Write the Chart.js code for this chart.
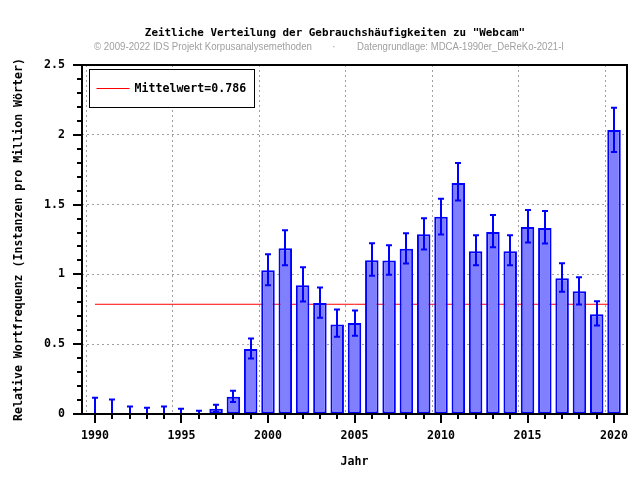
<!DOCTYPE html>
<html>
<head>
<meta charset="utf-8">
<script src="https://cdn.jsdelivr.net/npm/chart.js@4.4.1/dist/chart.umd.min.js"></script>
<style>
  html, body { margin: 0; padding: 0; background: #fff; }
</style>
</head>
<body>
<canvas id="chart" width="640" height="480"></canvas>
<script>
const chartTitle = 'Zeitliche Verteilung der Gebrauchshäufigkeiten zu "Webcam"';
const copyrightText = "© 2009-2022 IDS Projekt Korpusanalysemethoden";
const sourceText = "Datengrundlage: MDCA-1990er_DeReKo-2021-I";
const xAxisLabel = "Jahr";
const yAxisLabel = "Relative Wortfrequenz (Instanzen pro Million Wörter)";

const years = [1990, 1991, 1992, 1993, 1994, 1995, 1996, 1997, 1998, 1999,
  2000, 2001, 2002, 2003, 2004, 2005, 2006, 2007, 2008, 2009,
  2010, 2011, 2012, 2013, 2014, 2015, 2016, 2017, 2018, 2019, 2020];
const frequencies = [0, 0, 0, 0, 0, 0, 0, 0.038, 0.124, 0.465,
  1.03, 1.188, 0.922, 0.795, 0.642, 0.651, 1.101, 1.10, 1.183, 1.288,
  1.413, 1.654, 1.166, 1.303, 1.166, 1.339, 1.332, 0.972, 0.879, 0.714, 2.035];
const errorLow = [0, 0, 0, 0, 0, 0, 0, 0.017, 0.086, 0.397,
  0.922, 1.065, 0.805, 0.69, 0.553, 0.56, 0.991, 0.998, 1.078, 1.178,
  1.286, 1.53, 1.065, 1.195, 1.065, 1.228, 1.221, 0.876, 0.785, 0.634, 1.877];
const errorHigh = [0.117, 0.103, 0.053, 0.045, 0.053, 0.038, 0.024, 0.067, 0.167, 0.541,
  1.144, 1.317, 1.051, 0.907, 0.749, 0.742, 1.223, 1.209, 1.295, 1.403,
  1.542, 1.798, 1.281, 1.425, 1.281, 1.461, 1.454, 1.08, 0.979, 0.807, 2.193];
const meanValue = 0.786;
const meanLabel = "Mittelwert=0.786";

const monoFont = { family: "DejaVu Sans Mono", size: 11.6, weight: "bold" };

// error bars on top of the bars
const errorBarPlugin = {
  id: "errorBars",
  afterDatasetsDraw(chart) {
    const { ctx, scales: { x, y } } = chart;
    ctx.save();
    ctx.strokeStyle = "#0000ff";
    ctx.lineWidth = 2;
    years.forEach((yr, i) => {
      const px = Math.round(x.getPixelForValue(yr));
      const top = y.getPixelForValue(errorHigh[i]);
      const bot = y.getPixelForValue(errorLow[i]);
      ctx.beginPath();
      ctx.moveTo(px, top);
      ctx.lineTo(px, bot);
      ctx.moveTo(px - 3, top);
      ctx.lineTo(px + 3, top);
      ctx.moveTo(px - 3, bot);
      ctx.lineTo(px + 3, bot);
      ctx.stroke();
    });
    ctx.restore();
  }
};

// frame, tick marks, legend box, titles
const framePlugin = {
  id: "frame",
  afterDraw(chart) {
    const { ctx, chartArea: a, scales: { x, y } } = chart;
    ctx.save();
    ctx.strokeStyle = "#000";
    ctx.lineWidth = 2;
    ctx.beginPath();
    x.ticks.forEach(t => {
      const px = Math.round(x.getPixelForValue(t.value));
      const len = t.value % 5 === 0 ? 9 : 5;
      ctx.moveTo(px, a.bottom);
      ctx.lineTo(px, a.bottom + len);
    });
    y.ticks.forEach(t => {
      const py = Math.round(y.getPixelForValue(t.value));
      const major = Math.abs(t.value * 2 - Math.round(t.value * 2)) < 1e-6;
      ctx.moveTo(a.left - (major ? 9 : 5), py);
      ctx.lineTo(a.left, py);
    });
    ctx.stroke();
    ctx.strokeRect(a.left, a.top, a.right - a.left, a.bottom - a.top);

    // legend
    const lx = a.left + 7.5, ly = a.top + 4.5;
    ctx.fillStyle = "#fff";
    ctx.fillRect(lx, ly, 165, 38);
    ctx.lineWidth = 1;
    ctx.strokeRect(lx, ly, 165, 38);
    ctx.strokeStyle = "#ff0000";
    ctx.beginPath();
    ctx.moveTo(lx + 7, ly + 19);
    ctx.lineTo(lx + 40, ly + 19);
    ctx.stroke();
    ctx.fillStyle = "#000";
    ctx.font = "bold 11.6px 'DejaVu Sans Mono'";
    ctx.textAlign = "left";
    ctx.textBaseline = "middle";
    ctx.fillText(meanLabel, lx + 45, ly + 19);

    // titles
    ctx.textAlign = "center";
    ctx.font = "bold 10.9px 'DejaVu Sans Mono'";
    ctx.fillText(chartTitle, 335, 33.5);
    ctx.fillStyle = "#a0a0a0";
    ctx.font = "11px 'Liberation Sans'";
    ctx.textAlign = "left";
    ctx.fillText(copyrightText, 94, 46.5, 218);
    ctx.fillText("·", 332, 46.5);
    ctx.fillText(sourceText, 357, 46.5, 207);
    ctx.restore();
  }
};

new Chart(document.getElementById("chart"), {
  type: "bar",
  data: {
    datasets: [
      {
        type: "bar",
        label: "Webcam",
        data: years.map((yr, i) => ({ x: yr, y: frequencies[i] })),
        backgroundColor: "#8080ff",
        borderColor: "#0000ff",
        borderWidth: ctx => (ctx.raw && ctx.raw.y > 0 ? 2 : 0),
        borderSkipped: false,
        barPercentage: 0.78,
        categoryPercentage: 1,
        order: 1
      },
      {
        type: "line",
        label: meanLabel,
        data: [{ x: years[0], y: meanValue }, { x: years[years.length - 1], y: meanValue }],
        borderColor: "#ff0000",
        borderWidth: 1,
        pointRadius: 0,
        order: 2
      }
    ]
  },
  options: {
    responsive: false,
    animation: false,
    layout: { padding: { top: 65, right: 13, left: 0, bottom: 0 } },
    plugins: {
      legend: { display: false },
      tooltip: { enabled: false }
    },
    scales: {
      x: {
        type: "linear",
        min: 1989.25,
        max: 2020.75,
        offset: false,
        afterFit: s => { s.height = 66; s.paddingLeft = 0; s.paddingRight = 0; },
        grid: {
          drawTicks: false,
          color: ctx => (ctx.tick && ctx.tick.value % 5 === 0 ? "#a0a0a0" : "rgba(0,0,0,0)")
        },
        border: { display: false, dash: [2, 3] },
        ticks: {
          stepSize: 1,
          autoSkip: false,
          includeBounds: false,
          maxRotation: 0,
          padding: 15,
          color: "#000",
          font: monoFont,
          callback: v => (v % 5 === 0 ? String(v) : "")
        },
        title: { display: true, text: xAxisLabel, color: "#000", font: monoFont, padding: { top: 4, bottom: 11 } }
      },
      y: {
        min: 0,
        max: 2.5,
        afterFit: s => { s.width = 82; s.paddingTop = 0; s.paddingBottom = 0; },
        grid: {
          drawTicks: false,
          color: ctx => {
            const v = ctx.tick ? ctx.tick.value : 0.1;
            return Math.abs(v * 2 - Math.round(v * 2)) < 1e-6 ? "#a0a0a0" : "rgba(0,0,0,0)";
          }
        },
        border: { display: false, dash: [2, 3] },
        ticks: {
          stepSize: 0.1,
          autoSkip: false,
          padding: 17,
          color: "#000",
          font: monoFont,
          callback: v => (Math.abs(v * 2 - Math.round(v * 2)) < 1e-6 ? String(Number(v.toFixed(1))) : "")
        },
        title: { display: true, text: yAxisLabel, color: "#000", font: monoFont, padding: { top: 12, bottom: 4 } }
      }
    }
  },
  plugins: [errorBarPlugin, framePlugin]
});
</script>
</body>
</html>
